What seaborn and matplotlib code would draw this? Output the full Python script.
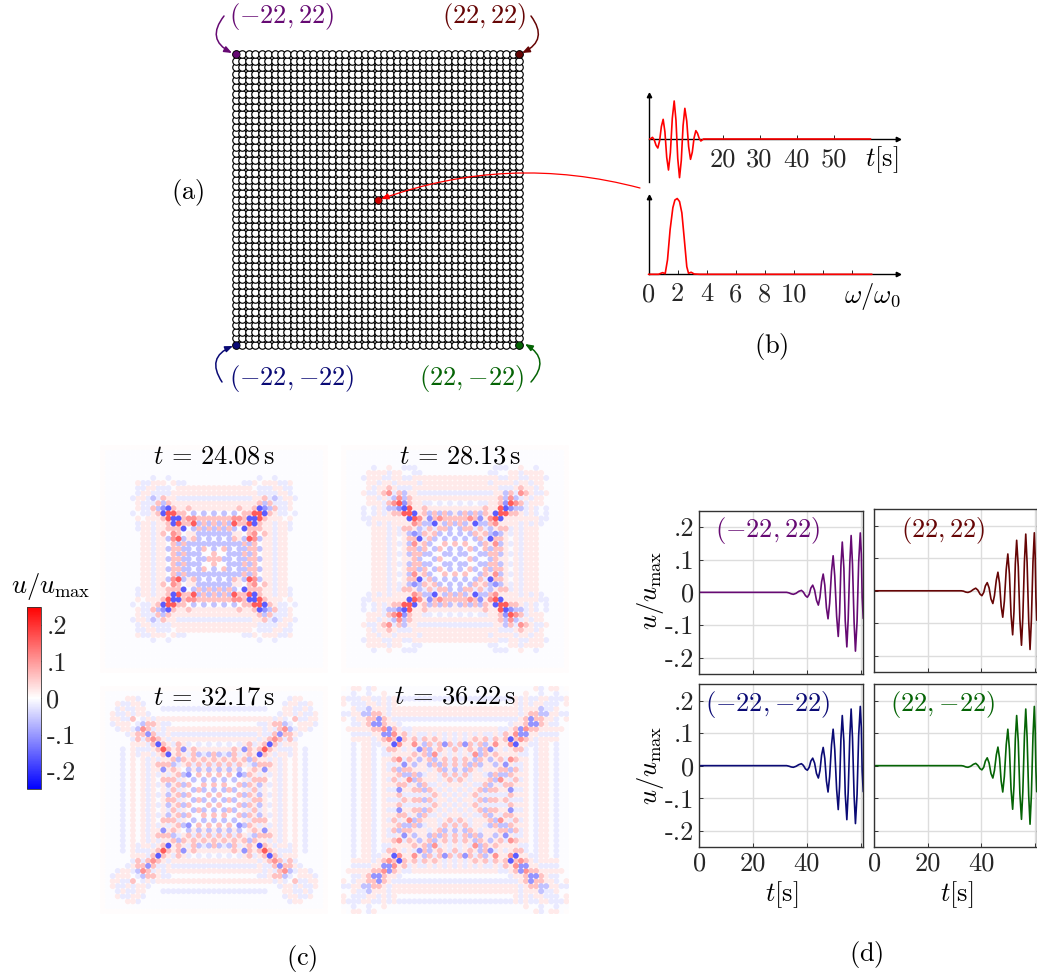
import numpy as np
import pandas as pd
import seaborn as sns
import matplotlib as mpl
from matplotlib import pyplot as plt

# lattice sites
sites = list(range(-22, 23))

# (b) input pulse and its spectrum
t_pulse = [0, .45, 1.08, 1.56, 2.04, 2.52, 3.0, 3.48, 3.96, 4.44, 4.92, 5.4, 5.91, 6.43, 6.94, 7.42, 7.9, 8.38,
           8.86, 9.34, 9.82, 10.33, 10.84, 11.35, 11.83, 12.31, 12.79, 13.24, 13.69, 14.14, 14.86, 60]
u_pulse = [0, 0, .05, -.03, -.19, -.27, -.055, .375, .59, .21, -.55, -.93, -.41, .62, 1.14, .565, -.585, -1.16,
           -.64, .40, .92, .54, -.23, -.61, -.395, .035, .25, .17, .02, -.06, 0, 0]
w_spec = [0, .69, .97, 1.15, 1.31, 1.49, 1.68, 1.82, 1.98, 2.14, 2.30, 2.46, 2.64, 2.76, 2.94, 3.15, 3.56, 15.4]
a_spec = [0, 0, .022, .009, .19, .59, .88, .98, 1.0, .96, .81, .48, .10, .013, .027, .004, 0, 0]

# (c) snapshots, top left quadrant of each, the others are mirror images
levels = {'x': .003, 'y': -.003, 'a': .02, 'b': .06, 'c': .105, 'd': .16,
          'A': -.02, 'B': -.06, 'C': -.105, 'D': -.16}
snap_24 = ["xxxxxxxxxxxxxxxxxxxxxxx", "xyyyyyyyyyyyyyyyyyyyyyy", "xyyyyyyyyyyyyyyyyyyyyyy", "xyyyyyyyyyyyyyyyyyyyyyy",
           "xyyyyyyyyyyyyyyyyyyyyyy", "xyyyyyyyyyyyyyyyyyyyyyy", "xyyyyyyyyyAyyAyyyyyyyyy", "xyyyyyyaAAaaayaAAyyyyyy",
           "xyyyyyaAAaaAAAyaaaaaaaa", "xyyyyyAAaaAAAAaaaaaaaaa", "xyyyyyaAaaBAbaaAAAAAAAA", "xyyyyyyaaABbBbaaaaaaaaa",
           "xyyyyyyAaabcCDbaabaaaaa", "xyyyyyyAAaabCddbbyByByB", "xyyyyyyaAyaBaBDDbccbbbb", "xyyyyyyyAayyAbcdbbdBbBb",
           "xyyyyyyyAayabAbbDyBbBbB", "xyyyyyyyaAyacyBbbaaBBBB", "xyyyyyyyAayyABabbbbByBy", "xyyyyyyyAayyayACCbBBBBB",
           "xyyyyyyyAayyACybbbBybyB", "xyyyyyyyaayybybCCbbybyb", "xyyyyyyyAayyACybbyBybyb"]
snap_28 = ["xxxxxxxxxxxxxxxxxxxxxxx", "xyyyyyyyyyyyyyyyyyyyyyy", "xyyyyyyyyyyyyyyyyyyyyyy", "xyyyyyyyyyyyyyyyyyyyyyy",
           "xyyyyyAyyayyAAAyyyyyyyy", "xyyyAaaaaAaayyAAyyyyyyy", "xyyyAAaaAAaaAAaaaaaaaaa", "xyyyyaaAaaAaaaaAaaaaaaa",
           "xyyyAAaAabaAAAaaaaaaaaa", "xyyyaAaabcAbBaaAAAAAAAA", "xyyyaaAaaBBcBbaaaaaaaaa", "xyyyAaaaAaCdCbaaAAyAyAy",
           "xyyyyyyyABbCDdaabaaaaaa", "xyyyyyyyaAaBCdDabBbBbBa", "xyyyyyyyAyayBDdcaCbcbbb", "xyyyyyyyaaBabBcbBBDaBbB",
           "xyyyyyyyyaAyAAbaAbAbbBy", "xyyyyyyyaycABBbababByBy", "xyyyyyyyAayAAbaCabByByB", "xyyyyyyyaaAcAbBbbBbybyb",
           "xyyyyyyyAayyBCaBBabByBy", "xyyyyyyyaaAcAbBbaBcBbBy", "xyyyyyyyAayyABcaBbBaBbB"]
snap_32 = ["xxxxxxxxxxxxxxxxxxxxxxx", "xyyyyyyyyyyyyyyyyyyyyyy", "xyyyyaaAyyyyyyyyyyyyyyy", "xyyaAAaaAyyyyyyyyyyyyyy",
           "xyyAaAAaayyyAAAAAAAAAAA", "xyaaAaAaaAyyyyyyyyyyyyy", "xyaAaabyAaAaaaaaaaaaaaa", "xyAayAyABbbaAAyyyyyyyyy",
           "xyyaaABacbAaAaaaaaaaaaa", "xyaaAaabbCbAAaAAAAAAAAA", "xyyAyaabBCcbaAaaaaaaaaa", "xyyyAyAaAbcDbaAbaAyAyAy",
           "xyyyaAyaaABbdbabCabaaaa", "xyyyyAAAaaABaDabaAbBABb", "xyyyyyyaAabBaabBbababab", "xyyyyyyAyaBAAbyAabAbAbA",
           "xyyyyyyyaAayCaybyBaBaBa", "xyyyyyyybabAabyAyCybyby", "xyyyyyyyaAAabAayaaByByB", "xyyyyyyyAaaAbcAbBbaybyb",
           "xyyyyyyyaAabAAaaBbBcByB", "xyyyyyyyaaAabcAbBbBbcby", "xyyyyyyyAaaAAaaBbBbBbBB"]
snap_36 = ["xyaayAayyyyyyyyyyyyyyyy", "ayAyyAyyayyyyyyyyyyyyyy", "ayAAaaAAaAaAAAAAAAAAAAA", "aaaAAaaAaAayyyyyyyyyyyy",
           "xAaaABaaaAaaaaaaaaaaaaa", "xaaAaBbbaAaaaaaaaaaaaaa", "xAaAaabCbaAAAAAAAAAAAAA", "xyAaaaCCbaaAyyyyyyyyyyy",
           "xyaAyaaccCbaAAaaaaaaaaa", "xyyaAyabDCcabAaAAaAaAaA", "xyyAayAaadbDbabAbabaAaA", "xyyyaAyaAbDcaacaBbAbCbA",
           "xyyyAaAbAaabAaACbBabaAb", "xyyyyyAbyAaBcababBcAaAa", "xyyyyyyAyBcbdyaBabBabAb", "xyyyyyyabaAADabaaBbBbAb",
           "xyyyyyyAaAbbAcyBaAabBaB", "xyyyyyyaaacAAaBbaaaAbAb", "xyyyyyyAAaabaAbBcyaAabA", "xyyyyyyaaaBAbaBbBaAaAaa",
           "xyyyyyyAaAAcaacaBaAaaAa", "xyyyyyyaaBacBabBbaAaAaA", "xyyyyyyaAaAaBaBcBaaAaaa"]
snap_titles = ['24.08', '28.13', '32.17', '36.22']

# (d) displacement at the four corners
t_left = [0, 32.5, 33.3, 34.2, 35, 36, 37, 38, 38.7, 39.5, 40.2, 40.9, 41.5, 42.2, 42.9, 43.6, 44.3, 44.9, 45.5, 46.1,
          46.7, 47.3, 47.9, 48.5, 49.2, 49.8, 50.4, 51.1, 51.7, 52.2, 52.7, 53.2, 53.8, 54.3, 54.9, 55.4, 56, 56.5,
          57, 57.6, 58.1, 58.7, 59.3, 59.9, 60.3, 60.6, 61]
t_right = [0, 32.5, 33.3, 34.2, 35, 36, 37, 37.9, 38.7, 39.5, 40.2, 40.9, 41.5, 42.2, 42.9, 43.6, 44.3, 44.9, 45.6, 46.2,
           46.8, 47.4, 48, 48.6, 49.3, 49.9, 50.5, 51.1, 51.7, 52.2, 52.7, 53.2, 53.8, 54.4, 55, 55.5, 56.1, 56.6,
           57.1, 57.7, 58.2, 58.7, 59.3, 59.8, 60.1, 60.4, 60.7]
u_nw = [0, 0, -.0015, -.0045, -.006, -.003, .003, .006, .001, -.010, -.015, -.006, .013, .022, .007, -.024, -.039,
        -.015, .032, .056, .022, -.047, -.081, -.033, .064, .112, .05, -.073, -.135, -.063, .082, .154, .074, -.087,
        -.167, -.082, .089, .174, .086, -.092, -.18, -.09, .092, .182, .116, -.015, -.08]
u_ne = [0, 0, -.001, -.004, -.005, -.002, .004, .008, .002, -.010, -.015, -.005, .015, .025, .009, -.025, -.039,
        -.015, .033, .057, .023, -.047, -.081, -.032, .065, .113, .051, -.074, -.135, -.063, .083, .155, .074, -.087,
        -.167, -.082, .089, .174, .086, -.093, -.18, -.09, .089, .178, .11, -.02, -.09]
u_sw = [0, 0, -.0015, -.004, -.005, -.002, .003, .006, .001, -.010, -.014, -.005, .014, .023, .008, -.024, -.038,
        -.015, .032, .056, .022, -.047, -.081, -.033, .064, .112, .05, -.073, -.135, -.063, .082, .154, .074, -.087,
        -.166, -.082, .089, .174, .086, -.092, -.178, -.089, .093, .182, .116, -.015, -.08]
u_se = [0, 0, -.001, -.004, -.005, -.002, .004, .007, .001, -.009, -.013, -.005, .014, .024, .008, -.024, -.038,
        -.015, .033, .057, .023, -.047, -.081, -.033, .064, .112, .05, -.073, -.134, -.062, .082, .154, .074, -.086,
        -.165, -.081, .09, .174, .087, -.092, -.18, -.09, .092, .182, .115, -.015, -.08]

corner_labels = [r'$(-22,22)$', r'$(22,22)$', r'$(-22,{-}22)$', r'$(22,{-}22)$']
corner_colors = ['#660a73', '#660505', '#0a0a75', '#056405']
y_ticks = [-.2, -.1, 0, .1, .2]
y_tick_labels = ['-.2', '-.1', '0', '.1', '.2']

W, H = 1037, 977

sns.set_style('white')
plt.rcParams['font.family'] = ['cmr10', 'DejaVu Sans']
plt.rcParams['mathtext.fontset'] = 'cm'
plt.rcParams['axes.unicode_minus'] = False
plt.rcParams['axes.formatter.use_mathtext'] = True
FS = 19

fig = plt.figure(figsize=(W / 100, H / 100), dpi=100)


def px_axes(left, top, right, bottom):
    return fig.add_axes([left / W, 1 - bottom / H, (right - left) / W, (bottom - top) / H])


over = fig.add_axes([0, 0, 1, 1], zorder=10)
over.set_xlim(0, W)
over.set_ylim(H, 0)
over.axis('off')
over.patch.set_alpha(0)


def label(x, y, s, color='black', size=FS, **kw):
    over.text(x, y, s, color=color, fontsize=size, ha='center', va='center', **kw)


def arrow(start, end, color, rad, lw=1.1):
    over.annotate('', xy=end, xytext=start,
                  arrowprops=dict(arrowstyle='-|>,head_length=.45,head_width=.18', color=color, lw=lw,
                                  connectionstyle=f'arc3,rad={rad}', shrinkA=0, shrinkB=0))


# (a) lattice
ax_a = px_axes(229, 47, 526, 352)
xx, yy = np.meshgrid(sites, sites)
sns.scatterplot(x=xx.ravel(), y=yy.ravel(), ax=ax_a, s=29, facecolor='white', edgecolor='black', linewidth=.85,
                clip_on=False)
corners_x, corners_y = [-22, 22, -22, 22], [22, 22, -22, -22]
for cx, cy, col in zip(corners_x, corners_y, corner_colors):
    sns.scatterplot(x=[cx], y=[cy], ax=ax_a, s=28, color=col, edgecolor='black', linewidth=.4, clip_on=False, zorder=3)
sns.scatterplot(x=[0], y=[0], ax=ax_a, s=28, color='#cc0000', edgecolor='black', linewidth=.4, zorder=3)
ax_a.set_xlim(-22 - 7 / 6.43, 22 + 7 / 6.43)
ax_a.set_ylim(-22 - 7 / 6.61, 22 + 7 / 6.61)
ax_a.axis('off')

label(282, 17, corner_labels[0], corner_colors[0])
label(484, 17, corner_labels[1], corner_colors[1])
label(292, 378, corner_labels[2], corner_colors[2])
label(472, 378, corner_labels[3], corner_colors[3])
arrow((224, 16), (232, 53), corner_colors[0], .6)
arrow((531, 16), (522, 53), corner_colors[1], -.6)
arrow((222, 382), (233, 346), corner_colors[2], -.6)
arrow((531, 382), (525, 344), corner_colors[3], .6)
arrow((640, 188), (381, 199), 'red', .155, lw=.9)
label(188, 192, r'$\mathrm{(a)}$')
label(771, 347, r'$\mathrm{(b)}$')
label(302, 958, r'$\mathrm{(c)}$')
label(866, 955, r'$\mathrm{(d)}$')


# (b) pulse and spectrum
def arrow_axes(ax):
    sns.despine(ax=ax)
    ax.spines['bottom'].set_position(('data', 0))
    ax.plot(1, 0, '>k', ms=3.2, transform=ax.get_yaxis_transform(), clip_on=False)
    ax.plot(0, 1, '^k', ms=3.2, transform=ax.get_xaxis_transform(), clip_on=False)
    ax.patch.set_alpha(0)
    ax.set_yticks([])
    for s in ['left', 'bottom']:
        ax.spines[s].set_linewidth(1)
        ax.spines[s].set_color('black')
        ax.spines[s].set_zorder(1)


ax_t = px_axes(648.5, 95, 898, 182)
sns.lineplot(x=t_pulse, y=u_pulse, ax=ax_t, color='red', lw=1.2, estimator=None, sort=False, zorder=3)
ax_t.set_xlim(0, 67.4)
ax_t.set_ylim(-1.29, 1.32)
arrow_axes(ax_t)
ax_t.set_xticks([20, 30, 40, 50])
ax_t.set_xticklabels(['20', '30', '40', '50'], fontsize=FS)
ax_t.tick_params(axis='x', direction='in', length=3, width=.7, pad=6, bottom=True)
label(882, 160, r'$t[\mathrm{s}]$')

ax_w = px_axes(648.5, 197, 898, 274.3)
sns.lineplot(x=w_spec, y=a_spec, ax=ax_w, color='red', lw=1.2, estimator=None, sort=False, clip_on=False, zorder=3)
ax_w.set_xlim(0, 17.2)
ax_w.set_ylim(0, 1.02)
arrow_axes(ax_w)
ax_w.set_xticks([0, 2, 4, 6, 8, 10, 12, 14])
ax_w.set_xticklabels(['0', '2', '4', '6', '8', '10', '', ''], fontsize=FS)
ax_w.tick_params(axis='x', direction='in', length=3, width=.7, pad=6, bottom=True)
label(872, 297, r'$\omega/\omega_0$')

# (c) snapshots
snap_boxes = [(100, 445, 328, 673), (341, 445, 569, 673), (100, 686, 328, 914), (341, 686, 569, 914)]
snap_text = [(214, 457), (460, 457), (214, 698), (455, 697)]
for rows, box, title, tpos in zip([snap_24, snap_28, snap_32, snap_36], snap_boxes, snap_titles, snap_text):
    quad = np.array([[levels[c] for c in row] for row in rows])
    quad = np.triu(quad) + np.triu(quad, 1).T
    half = np.hstack([quad, quad[:, -2::-1]])
    full = np.vstack([half, half[-2::-1]])
    df = pd.DataFrame(full, index=sites[::-1], columns=sites).stack().reset_index()
    df.columns = ['y', 'x', 'u']
    df = df.sort_values('u', key=abs)
    ax = px_axes(*box)
    sns.scatterplot(data=df, x='x', y='y', hue='u', palette='bwr', hue_norm=(-.25, .25), s=18, linewidth=0,
                    legend=False, ax=ax)
    ax.set_xlim(-22.5, 22.5)
    ax.set_ylim(-22.5, 22.5)
    ax.axis('off')
    label(tpos[0], tpos[1], rf'$t\,=\,{title}\,\mathrm{{s}}$')

cax = px_axes(26.7, 606.7, 40.7, 789.3)
sm = mpl.cm.ScalarMappable(norm=mpl.colors.Normalize(-.25, .25), cmap='bwr')
cb = fig.colorbar(sm, cax=cax)
cb.set_ticks(y_ticks)
cb.set_ticklabels(y_tick_labels, fontsize=FS)
cb.ax.tick_params(direction='in', length=2, width=.6, pad=4, right=True)
cb.outline.set_linewidth(.6)
cb.outline.set_edgecolor('#333333')
label(51, 586, r'$u/u_{\mathrm{max}}$')

# (d) corner signals
d_boxes = [(699.3, 510.7, 862.7, 674), (874.3, 509.3, 1037, 672.3), (699.3, 684.3, 862.7, 847), (874.3, 684.3, 1037, 847)]
d_t = [t_left, t_right, t_left, t_right]
d_u = [u_nw, u_ne, u_sw, u_se]
d_text = [(768, 530), (943, 530), (768, 705), (943, 705)]
for i, (box, tt, uu, col, name, tpos) in enumerate(zip(d_boxes, d_t, d_u, corner_colors, corner_labels, d_text)):
    ax = px_axes(*box)
    sns.lineplot(x=tt, y=uu, ax=ax, color=col, lw=1.2, estimator=None, sort=False)
    ax.set_xlim(0, 60.8)
    ax.set_ylim(-.25, .25)
    ax.set_xticks([0, 20, 40, 60])
    ax.set_yticks(y_ticks)
    ax.grid(True, color='#dddddd', lw=1)
    ax.set_axisbelow(True)
    ax.tick_params(direction='in', length=3, width=.7, color='#333333', labelsize=FS, bottom=True, left=True)
    ax.set_xticklabels(['0', '20', '40', ''] if i >= 2 else [])
    ax.set_yticklabels(y_tick_labels if i % 2 == 0 else [])
    for s in ax.spines.values():
        s.set_color('#333333')
        s.set_linewidth(1)
    label(tpos[0], tpos[1], name, col)

label(782, 895, r'$t[\mathrm{s}]$')
label(957, 895, r'$t[\mathrm{s}]$')
label(650, 590, r'$u/u_{\mathrm{max}}$', rotation=90)
label(650, 765, r'$u/u_{\mathrm{max}}$', rotation=90)

fig.savefig('out.png', dpi=100)
